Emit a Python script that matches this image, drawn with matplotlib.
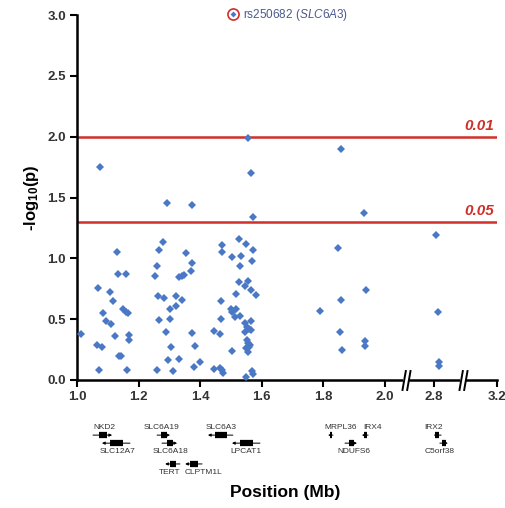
import numpy as np
import matplotlib
matplotlib.use("Agg")
import matplotlib.pyplot as plt
from matplotlib.path import Path
from matplotlib.lines import Line2D
from matplotlib.legend_handler import HandlerTuple

plt.rcParams['font.family'] = ['Liberation Sans', 'DejaVu Sans']
plt.rcParams['mathtext.fontset'] = 'custom'
plt.rcParams['mathtext.rm'] = 'Liberation Sans'
plt.rcParams['mathtext.it'] = 'Liberation Sans:italic'
plt.rcParams['mathtext.bf'] = 'Liberation Sans:bold'

# SNP positions (Mb) and -log10(p)
pos = [1.012, 1.075, 1.069, 1.106, 1.084, 1.118, 1.095, 1.111, 1.065, 1.082,
       1.072, 1.130, 1.133, 1.159, 1.122, 1.137, 1.144, 1.150, 1.158, 1.164,
       1.168, 1.168, 1.163,
       1.280, 1.266, 1.259, 1.254, 1.291, 1.263, 1.284, 1.266, 1.290, 1.302,
       1.303, 1.320, 1.321, 1.341, 1.304, 1.296, 1.261, 1.312, 1.330, 1.332,
       1.340, 1.346, 1.354, 1.372, 1.374, 1.369, 1.373, 1.383, 1.380, 1.399,
       1.470, 1.471, 1.502, 1.525, 1.532, 1.530, 1.550, 1.570, 1.569, 1.554,
       1.526, 1.546, 1.564, 1.580, 1.515, 1.469, 1.499, 1.508, 1.515, 1.513,
       1.530, 1.502, 1.467, 1.546, 1.566, 1.551, 1.559, 1.546, 1.565, 1.445,
       1.464, 1.551, 1.556, 1.563, 1.548, 1.554, 1.559, 1.503, 1.445, 1.463,
       1.472, 1.475, 1.548, 1.569, 1.572, 1.554, 1.565, 1.571,
       1.858, 1.933, 1.848, 1.939, 1.856, 1.790, 1.854, 1.935, 1.934, 1.861,
       2.806, 2.814, 2.815, 2.816]
logp = [0.375, 1.75, 0.76, 0.72, 0.55, 0.65, 0.485, 0.46, 0.29, 0.27,
        0.08, 1.05, 0.87, 0.87, 0.365, 0.20, 0.195, 0.58, 0.556, 0.548,
        0.367, 0.33, 0.08,
        1.137, 1.07, 0.937, 0.855, 1.457, 0.69, 0.677, 0.496, 0.397, 0.586,
        0.504, 0.69, 0.611, 0.66, 0.271, 0.162, 0.08, 0.077, 0.175, 0.846,
        0.855, 0.86, 1.044, 1.438, 0.959, 0.893, 0.389, 0.279, 0.104, 0.151,
        1.112, 1.049, 1.011, 1.159, 1.019, 0.937, 1.115, 1.071, 0.975, 0.816,
        0.805, 0.775, 0.737, 0.701, 0.707, 0.649, 0.584, 0.57, 0.584, 0.52,
        0.526, 0.556, 0.501, 0.471, 0.485, 0.438, 0.419, 0.397, 0.411, 0.405,
        0.378, 0.329, 0.301, 0.288, 0.26, 0.227, 0.268, 0.238, 0.093, 0.099,
        0.082, 0.06, 0.025, 0.071, 0.052, 1.986, 1.704, 1.34,
        1.899, 1.375, 1.082, 0.737, 0.655, 0.565, 0.395, 0.323, 0.279, 0.244,
        1.194, 0.561, 0.145, 0.115]

# genes: name, start, end, strand, track row, label position
gene_names = ['NKD2', 'SLC12A7', 'SLC6A19', 'SLC6A18', 'TERT', 'CLPTM1L',
              'SLC6A3', 'LPCAT1', 'MRPL36', 'IRX4', 'NDUFS6', 'IRX2', 'C5orf38']
gene_start = [1.052, 1.081, 1.260, 1.276, 1.286, 1.351,
              1.425, 1.503, 1.815, 1.925, 1.870, 2.794, 2.819]
gene_end = [1.114, 1.172, 1.302, 1.325, 1.334, 1.406,
            1.506, 1.594, 1.831, 1.945, 1.909, 2.823, 2.845]
gene_strand = [1, -1, 1, 1, -1, -1, -1, -1, -1, -1, 1, -1, 1]
gene_row = [0, 1, 0, 1, 2, 2, 0, 1, 0, 0, 1, 0, 1]
gene_label_x = [1.088, 1.131, 1.274, 1.305, 1.302, 1.412,
                1.469, 1.549, 1.857, 1.958, 1.898, 2.795, 2.819]

thresholds = [0.01, 0.05]
xticks = [1.0, 1.2, 1.4, 1.6, 1.8, 2.0, 2.8, 3.2]
breaks = [2.068, 2.894]

# broken x axis as piecewise linear scale
XP = [0.0, 1.0, 2.068, 2.8, 2.894, 3.2, 4.2]
FP = [-308.0, 0.0, 329.0, 357.0, 386.0, 419.7, 727.7]


def fwd(x):
    return np.interp(x, XP, FP)


def inv(y):
    return np.interp(y, FP, XP)


blue = '#4a78c4'
red = '#cf3029'

fig = plt.figure(figsize=(5.06, 5.08), dpi=100)
ax = fig.add_axes([77 / 506, 1 - 380 / 508, 419.7 / 506, 365 / 508])
ax.set_xscale('function', functions=(fwd, inv))
ax.set_xlim(1.0, 3.2)
ax.set_ylim(0, 3.0)

for t in thresholds:
    y = -np.log10(t)
    ax.axhline(y, color=red, lw=1.8, zorder=2)
    ax.annotate(f'{t:.2f}', xy=(0.993, y),
                xycoords=ax.get_yaxis_transform(), xytext=(0, 3),
                textcoords='offset points', ha='right', va='bottom',
                color=red, fontsize=11, fontweight='bold', style='italic')

ax.plot(pos, logp, 'D', color=blue, ms=4.3, mew=0, zorder=3, clip_on=False)

for s in ['top', 'right']:
    ax.spines[s].set_visible(False)
for s in ['left', 'bottom']:
    ax.spines[s].set_linewidth(1.8)
ax.set_xticks(xticks)
ax.set_xticklabels([f'{v:.1f}' for v in xticks])
ax.set_yticks(np.arange(0, 3.01, 0.5))
ax.set_yticklabels([f'{v:.1f}' for v in np.arange(0, 3.01, 0.5)])
ax.xaxis.set_minor_locator(matplotlib.ticker.NullLocator())
ax.tick_params(length=5, width=1.5, labelsize=9.5, labelcolor='#333333', pad=3)
for lab in ax.get_xticklabels() + ax.get_yticklabels():
    lab.set_fontweight('bold')

# axis break marks
trans_x = ax.get_xaxis_transform()
slash = Path([(-0.4, -1), (-0.05, 1), (0.05, -1), (0.4, 1)],
             [Path.MOVETO, Path.LINETO, Path.MOVETO, Path.LINETO])
for b in breaks:
    ax.plot([b], [0], marker='s', ms=4, color='white', mew=0,
            transform=trans_x, clip_on=False, zorder=5)
    ax.plot([b], [0], marker=slash, ms=15, color='black', mew=1.4,
            transform=trans_x, clip_on=False, zorder=6)

# gene track below the axis
row_y = [-0.151, -0.173, -0.230]
for name, a, b, st, r, lx in zip(gene_names, gene_start, gene_end,
                                 gene_strand, gene_row, gene_label_x):
    y = row_y[r]
    tail, head = (a, b) if st > 0 else (b, a)
    ax.annotate('', xy=(head, y), xytext=(tail, y), xycoords=trans_x,
                annotation_clip=False,
                arrowprops=dict(arrowstyle='-|>', lw=0.7, color='black',
                                mutation_scale=4, shrinkA=0, shrinkB=0))
    L = b - a
    ax.plot([a + 0.3 * L, a + 0.75 * L], [y, y], color='black', lw=4.5,
            solid_capstyle='butt', transform=trans_x, clip_on=False)
    if r == 0:
        ax.text(lx, y + 0.012, name, transform=trans_x, ha='center',
                va='bottom', fontsize=6, color='#333333')
    else:
        ax.text(lx, y - 0.014, name, transform=trans_x, ha='center',
                va='top', fontsize=6, color='#333333')

# legend for the highlighted SNP
h_ring = Line2D([], [], ls='none', marker='o', ms=8, mfc='white', mec=red, mew=1.2)
h_dot = Line2D([], [], ls='none', marker='D', ms=3, color=blue, mew=0)
fig.legend([(h_ring, h_dot)], [r'rs250682 ($\it{SLC6A3}$)'],
           handler_map={tuple: HandlerTuple(ndivide=1)},
           loc='center', bbox_to_anchor=(288 / 506, 1 - 15 / 508),
           frameon=False, handlelength=0.8, handletextpad=0.4,
           labelcolor='#4b5a8c', fontsize=8.5)

fig.text(32 / 506, 1 - 198 / 508, r'-log$_{\mathbf{10}}$(p)', rotation=90,
         ha='center', va='center', fontsize=12, fontweight='bold')
fig.text(285 / 506, 1 - 493 / 508, 'Position (Mb)', ha='center', va='center',
         fontsize=12.5, fontweight='bold')

fig.savefig('out.png', dpi=100)
